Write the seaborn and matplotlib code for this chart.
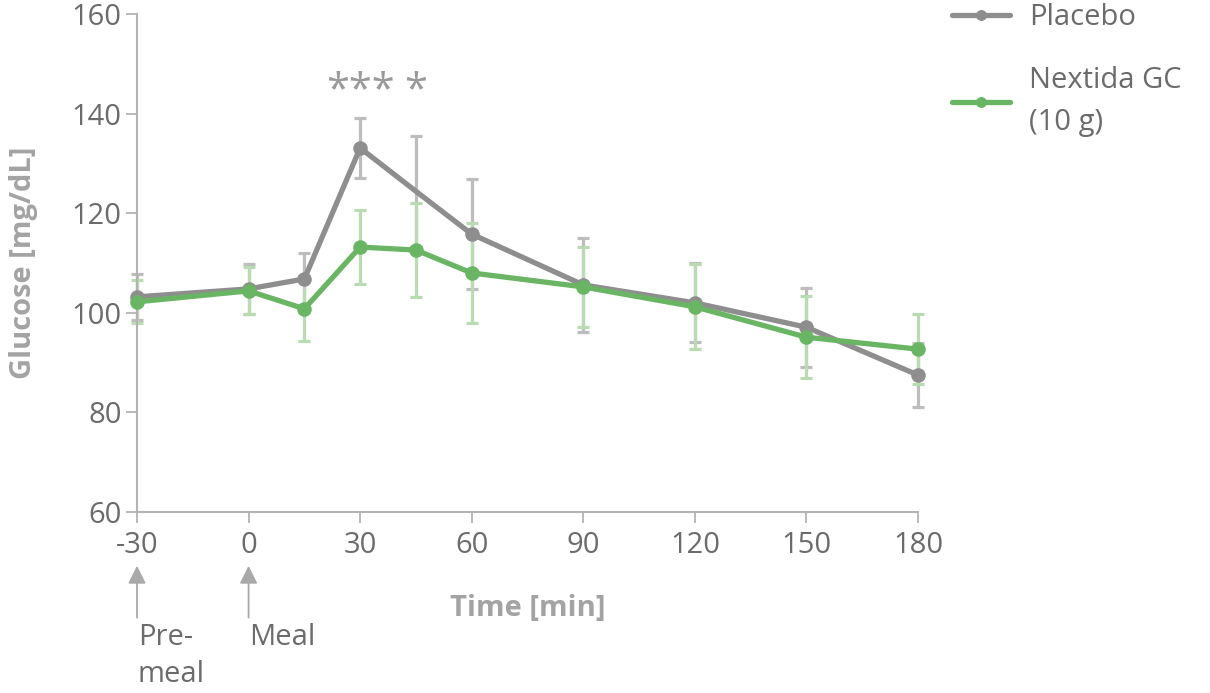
import matplotlib
matplotlib.use("Agg")
import matplotlib.pyplot as plt
import matplotlib.transforms as mtransforms
import seaborn as sns
import pandas as pd
import numpy as np

# ---- data ----
time = [-30, 0, 15, 30, 45, 60, 90, 120, 150, 180]
placebo = [103.2, 104.8, 106.8, 133.1, 124.4, 115.8, 105.6, 102.0, 97.1, 87.5]
placebo_err = [4.6, 5.0, 5.2, 6.1, 11.1, 11.0, 9.4, 7.9, 7.9, 6.4]
nextida = [102.2, 104.4, 100.8, 113.2, 112.6, 108.0, 105.2, 101.2, 95.1, 92.7]
nextida_err = [4.3, 4.7, 6.5, 7.5, 9.4, 10.0, 8.0, 8.5, 8.2, 7.0]
series_names = ["Placebo", "Nextida GC\n(10 g)"]
xticks = [-30, 0, 30, 60, 90, 120, 150, 180]
yticks = [60, 80, 100, 120, 140, 160]

sns.set_theme(style="white")
plt.rcParams['font.family'] = ['Open Sans', 'DejaVu Sans']

GRAY = "#8e8e8e"
GRAY_ERR = "#bdbdbd"
GREEN = "#6ab564"
GREEN_ERR = "#b9dbb2"
TXT = "#6b6b6b"
LAB = "#a3a3a3"
SPINE = "#b3b3b3"
FS = 21

fig = plt.figure(figsize=(12.1, 6.93), dpi=100)
ax = fig.add_axes([137/1210, 1-512/693, (918-137)/1210, (512-14)/693])

df_p = pd.DataFrame({"time": time, "glucose": placebo})
df_n = pd.DataFrame({"time": time, "glucose": nextida})

# error bars
ax.errorbar(time, placebo, yerr=placebo_err, fmt="none", ecolor=GRAY_ERR,
            elinewidth=2.3, capsize=4.5, capthick=2.3, zorder=1, clip_on=False)
ax.errorbar(time, nextida, yerr=nextida_err, fmt="none", ecolor=GREEN_ERR,
            elinewidth=2.3, capsize=4.5, capthick=2.3, zorder=1.5, clip_on=False)

p_marks = [i for i, t in enumerate(time) if t != 45]
sns.lineplot(data=df_p, x="time", y="glucose", ax=ax, color=GRAY, lw=3.8,
             marker="o", markersize=10.5, markeredgewidth=0, markevery=p_marks,
             zorder=3, clip_on=False, label=series_names[0], legend=False)
sns.lineplot(data=df_n, x="time", y="glucose", ax=ax, color=GREEN, lw=3.8,
             marker="o", markersize=10.5, markeredgewidth=0,
             zorder=4, clip_on=False, label=series_names[1], legend=False)

ax.set_xlim(-30, 180)
ax.set_ylim(60, 160)
ax.set_xticks(xticks)
ax.set_yticks(yticks)
ax.set_xticklabels([str(t) for t in xticks])
ax.tick_params(axis="both", which="major", direction="out", length=8, width=1.3,
               color=SPINE, labelcolor=TXT, labelsize=FS, pad=3, left=True, bottom=True)
ax.tick_params(axis="x", pad=6)
for s in ["top", "right"]:
    ax.spines[s].set_visible(False)
for s in ["left", "bottom"]:
    ax.spines[s].set_color(SPINE)
    ax.spines[s].set_linewidth(1.5)

ax.set_ylabel("Glucose [mg/dL]", fontsize=FS, fontweight="bold", color=LAB, labelpad=24)
ax.set_xlabel("Time [min]", fontsize=FS, fontweight="bold", color=LAB, labelpad=24)

# significance stars
ax.text(30, 144.5, "***", ha="center", va="center", fontsize=30, color="#9a9a9a")
ax.text(45, 144.5, "*", ha="center", va="center", fontsize=30, color="#9a9a9a")

# arrows and notes below x axis
trans = mtransforms.blended_transform_factory(ax.transData, ax.transAxes)
for xv, txt in [(-30, "Pre-\nmeal"), (0, "Meal")]:
    ax.annotate("", xy=(xv, -0.108), xytext=(xv, -0.212), xycoords=trans, textcoords=trans,
                arrowprops=dict(arrowstyle="-|>,head_length=0.9,head_width=0.45",
                                color="#a9a9a9", lw=1.3, shrinkA=0, shrinkB=0),
                annotation_clip=False)
    ax.text(xv + 0.2, -0.222, txt, transform=trans, ha="left", va="top",
            fontsize=FS, color=TXT, linespacing=1.4)

leg = ax.legend(loc="upper left", bbox_to_anchor=(940/1210, 1.012), bbox_transform=fig.transFigure,
                frameon=False, fontsize=FS, labelcolor=TXT, handlelength=2.0,
                handletextpad=0.65, labelspacing=1.15, borderaxespad=0, markerscale=0.75)
leg.get_texts()[1].set_linespacing(1.6)

fig.savefig("out.png", dpi=100)
